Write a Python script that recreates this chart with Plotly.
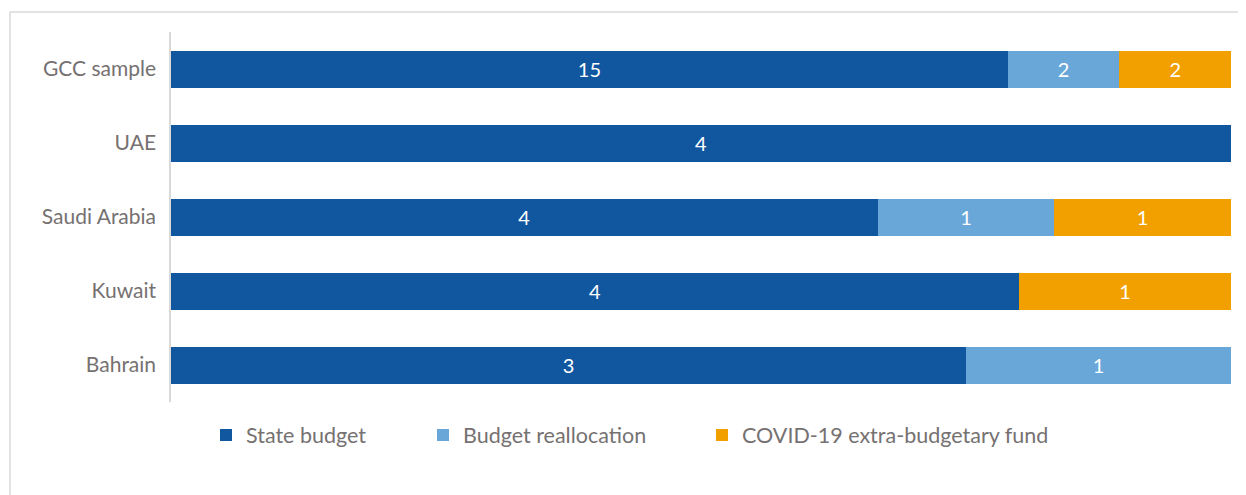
import plotly.graph_objects as go

categories = ["GCC sample", "UAE", "Saudi Arabia", "Kuwait", "Bahrain"]
state_budget = [15, 4, 4, 4, 3]
budget_realloc = [2, 0, 1, 0, 1]
covid_fund = [2, 0, 1, 1, 0]
series_names = ["State budget", "Budget reallocation", "COVID-19 extra-budgetary fund"]
colors = ["#1157A0", "#69A7D9", "#F29F00"]

FONT = "Lato"
TXT = "#767171"
W, H = 1238, 487
L, R, T, B = 163, 15, 24, 93
pw = W - L - R
ph = H - T - B

def px2x(px):
    return (px - 8 - L) / pw

legend_px = [206, 423, 702]
legend_names = ["legend", "legend2", "legend3"]

fig = go.Figure()
for name, vals, col, lg in zip(series_names, [state_budget, budget_realloc, covid_fund], colors, legend_names):
    fig.add_trace(go.Bar(
        y=categories, x=vals, name=name, orientation="h", legend=lg,
        marker=dict(color=col, line=dict(width=0)),
        text=[str(v) if v else "" for v in vals],
        textposition="inside", insidetextanchor="middle",
        textfont=dict(color="white", size=20, family=FONT),
        hoverinfo="skip",
    ))

legend_common = dict(orientation="h", yanchor="middle", xanchor="left",
                     y=(402 - 435) / ph,
                     font=dict(size=21.5, color=TXT, family=FONT),
                     itemwidth=30, bgcolor="rgba(0,0,0,0)", borderwidth=0)

layout_legends = {}
for lg, p in zip(legend_names, legend_px):
    d = dict(legend_common)
    d["x"] = px2x(p)
    layout_legends[lg] = d

fig.update_layout(
    width=W, height=H,
    barmode="stack", barnorm="percent", bargap=0.5,
    margin=dict(l=L, r=R, t=T, b=B),
    paper_bgcolor="white", plot_bgcolor="white",
    font=dict(family=FONT, color=TXT, size=21),
    showlegend=True,
    xaxis=dict(visible=False, range=[0, 100], fixedrange=True),
    yaxis=dict(categoryorder="array", categoryarray=categories[::-1],
               showline=True, linecolor="#D9D9D9", linewidth=1.5,
               ticks="", showgrid=False, ticklabelstandoff=9,
               tickfont=dict(size=21, color=TXT, family=FONT)),
    shapes=[dict(type="rect", xref="paper", yref="paper",
                 x0=px2x(10), x1=1.05, y0=-0.5, y1=(402 - 12) / ph,
                 line=dict(color="#D9D9D9", width=1.5), fillcolor="rgba(0,0,0,0)", layer="below")],
    **layout_legends,
)
fig.write_html("out.html")
